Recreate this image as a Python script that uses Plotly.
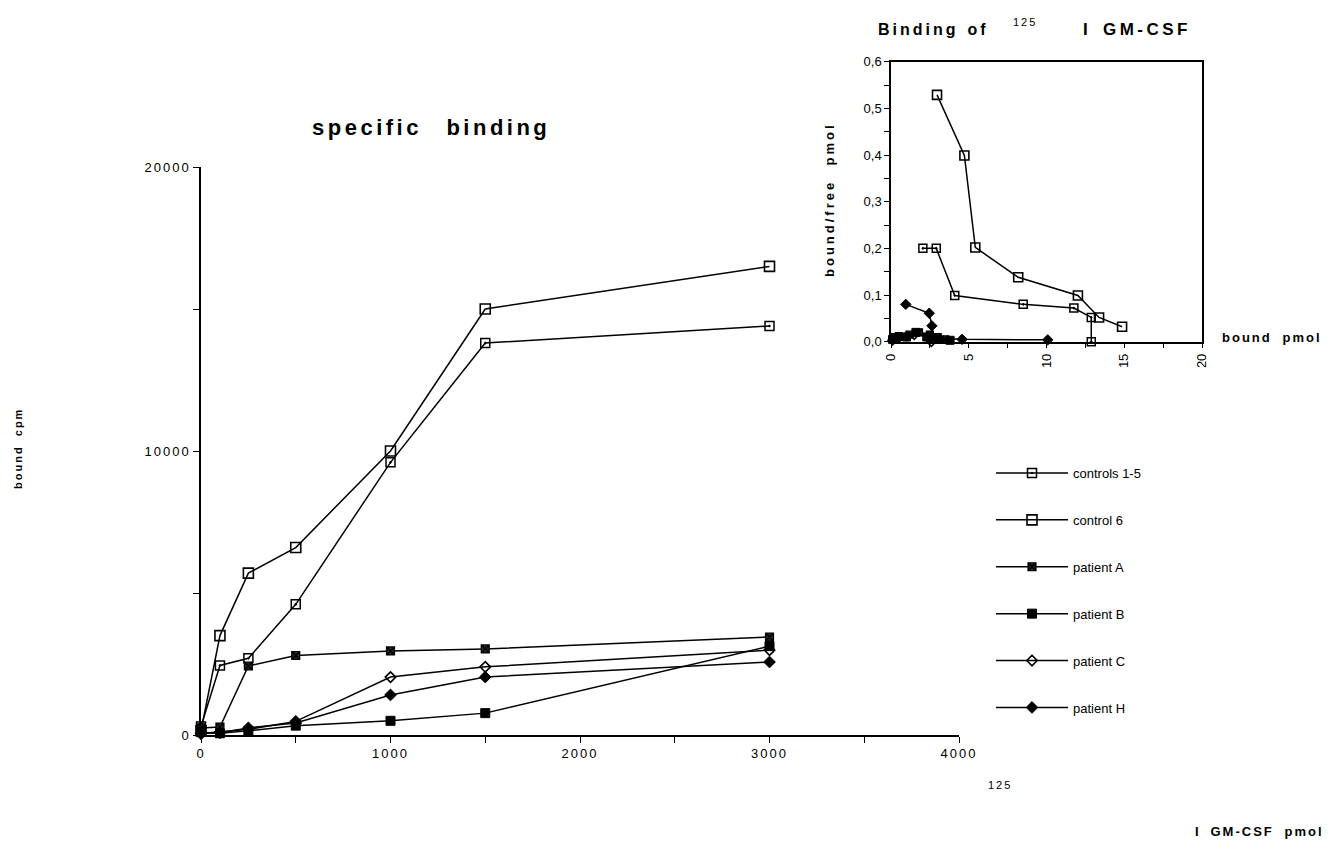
import plotly.graph_objects as go

W, H = 1333, 848

# ---- main chart data: specific binding (bound cpm vs 125I GM-CSF pmol) ----
dose = [0, 100, 250, 500, 1000, 1500, 3000]
controls_1_5 = [300, 2450, 2700, 4600, 9600, 13800, 14400]
control_6 = [150, 3500, 5700, 6600, 10000, 15000, 16500]
patient_A = [250, 280, 2430, 2800, 2960, 3030, 3450]
patient_B = [100, 60, 150, 330, 500, 770, 3130]
patient_C = [50, 100, 200, 480, 2040, 2400, 2990]
patient_H = [50, 80, 250, 420, 1410, 2040, 2570]

series_names = ["controls 1-5", "control 6", "patient A", "patient B", "patient C", "patient H"]

# ---- inset data: Scatchard plot (bound/free vs bound) ----
sc_c15_x = [2.05, 2.91, 4.10, 8.50, 11.76, 12.88, 12.88]
sc_c15_y = [0.200, 0.200, 0.099, 0.080, 0.072, 0.052, 0.000]
sc_c6_x = [2.96, 4.72, 5.42, 8.18, 12.02, 13.38, 14.86]
sc_c6_y = [0.529, 0.399, 0.202, 0.138, 0.099, 0.052, 0.032]
sc_A_x = [0.2, 0.5, 1.2, 1.8, 2.5, 3.0, 3.5]
sc_A_y = [0.010, 0.012, 0.015, 0.020, 0.015, 0.010, 0.005]
sc_B_x = [0.1, 0.3, 1.0, 1.6, 2.3, 3.0, 3.8]
sc_B_y = [0.005, 0.008, 0.010, 0.020, 0.010, 0.005, 0.003]
sc_C_x = [0.1, 0.5, 1.0, 1.5, 2.4, 2.6]
sc_C_y = [0.003, 0.008, 0.012, 0.015, 0.012, 0.000]
sc_H_x = [0.95, 2.46, 2.63, 2.55, 4.57, 10.08]
sc_H_y = [0.080, 0.061, 0.034, 0.008, 0.005, 0.004]

main_xticks = [0, 1000, 2000, 3000, 4000]
main_yticks = [0, 10000, 20000]
inset_xticks = [0, 5, 10, 15, 20]
inset_yticks = [0.0, 0.1, 0.2, 0.3, 0.4, 0.5, 0.6]

FONT = "Liberation Sans, Arial, Helvetica, sans-serif"
NB = "\u00a0"


def ls(text, px):
    return f'<span style="letter-spacing:{px}px">{text}</span>'


styles = [
    dict(symbol="square-open-dot", size=9, color="black", line=dict(width=1.5, color="black")),
    dict(symbol="square-open", size=10, color="black", line=dict(width=1.6, color="black")),
    dict(symbol="square-x", size=8, color="#222", line=dict(width=1.2, color="black")),
    dict(symbol="square", size=9, color="black", line=dict(width=1, color="black")),
    dict(symbol="diamond-open", size=8, color="black", line=dict(width=1.6, color="black")),
    dict(symbol="diamond", size=9, color="black", line=dict(width=1, color="black")),
]

main_series = [controls_1_5, control_6, patient_A, patient_B, patient_C, patient_H]
inset_series = [(sc_c15_x, sc_c15_y), (sc_c6_x, sc_c6_y), (sc_A_x, sc_A_y),
                (sc_B_x, sc_B_y), (sc_C_x, sc_C_y), (sc_H_x, sc_H_y)]

fig = go.Figure()
for i, (name, ys) in enumerate(zip(series_names, main_series)):
    fig.add_trace(go.Scatter(
        x=dose, y=ys, mode="lines+markers", name=name, legendgroup=name,
        line=dict(color="black", width=1.5), marker=styles[i],
        cliponaxis=False, xaxis="x", yaxis="y"))

for i, (name, (xs, ys)) in enumerate(zip(series_names, inset_series)):
    st = dict(styles[i])
    st["size"] = st["size"] - 1
    fig.add_trace(go.Scatter(
        x=xs, y=ys, mode="lines+markers", name=name, legendgroup=name, showlegend=False,
        line=dict(color="black", width=1.5), marker=st,
        cliponaxis=False, xaxis="x2", yaxis="y2"))


def px_x(p):
    return p / W


def px_y(p):
    return 1 - p / H


tickfont = dict(family=FONT, size=13, color="black")
common = dict(automargin=False, showgrid=False, zeroline=False, showline=True,
              linecolor="black", linewidth=1.5, ticks="outside", tickwidth=1.2,
              tickcolor="black", tickmode="array")

fig.update_layout(
    template="none",
    width=W, height=H,
    margin=dict(l=0, r=0, t=0, b=0, autoexpand=False),
    paper_bgcolor="white", plot_bgcolor="white",
    font=dict(family=FONT, color="black"),
    xaxis=dict(
        common, domain=[px_x(201), px_x(959)], range=[0, 4000], anchor="y",
        ticklen=6, tickvals=main_xticks,
        ticktext=[ls(str(v), 2) for v in main_xticks],
        tickfont=tickfont,
        minor=dict(dtick=500, tick0=0, ticks="outside", ticklen=6, tickwidth=1.2, tickcolor="black", showgrid=False),
    ),
    yaxis=dict(
        common, domain=[px_y(735), px_y(167)], range=[0, 20000], anchor="x",
        ticklen=6, tickvals=main_yticks,
        ticktext=[ls(str(v), 2) for v in main_yticks],
        tickfont=tickfont,
        minor=dict(dtick=5000, tick0=0, ticks="outside", ticklen=6, tickwidth=1.2, tickcolor="black", showgrid=False),
    ),
    xaxis2=dict(
        common, domain=[px_x(891), px_x(1202)], range=[0, 20], anchor="y2", mirror=True,
        ticklen=5, tickvals=inset_xticks, ticktext=[str(v) for v in inset_xticks],
        tickangle=-90, tickfont=dict(family=FONT, size=13, color="black"),
        minor=dict(dtick=2.5, tick0=0, ticks="outside", ticklen=5, tickwidth=1.2, tickcolor="black", showgrid=False),
    ),
    yaxis2=dict(
        common, domain=[px_y(341.7), px_y(61.7)], range=[0, 0.6], anchor="x2", mirror=True,
        ticklen=5, tickvals=inset_yticks, ticktext=[f"{v:.1f}".replace(".", ",") for v in inset_yticks],
        tickfont=dict(family=FONT, size=13, color="black"),
        minor=dict(dtick=0.05, tick0=0, ticks="outside", ticklen=5, tickwidth=1.2, tickcolor="black", showgrid=False),
    ),
    showlegend=True,
    legend=dict(
        x=px_x(991), y=px_y(458), xanchor="left", yanchor="top",
        bgcolor="rgba(0,0,0,0)", borderwidth=0,
        font=dict(family=FONT, size=13, color="black"),
        tracegroupgap=27, itemwidth=72,
    ),
)

ann = [
    dict(text="<b>" + ls("specific", 3.5) + NB * 4 + ls("binding", 3.5) + "</b>",
         x=px_x(431), y=px_y(128), size=22),
    dict(text="<b>" + ls("bound", 2) + NB * 3 + ls("cpm", 2) + "</b>",
         x=px_x(18), y=px_y(449), textangle=-90, size=11),
    dict(text=ls("125", 2), x=px_x(1000), y=px_y(785), size=11),
    dict(text="<b>" + ls("I", 1) + NB * 3 + ls("GM-CSF", 2) + NB * 3 + ls("pmol", 2) + "</b>",
         x=px_x(1259), y=px_y(831), size=13),
    dict(text="<b>" + ls("Binding", 3) + NB * 2 + ls("of", 3) + "</b>",
         x=px_x(933), y=px_y(30), size=16),
    dict(text=ls("125", 2), x=px_x(1025), y=px_y(22), size=11),
    dict(text="<b>" + ls("I", 1) + NB * 3 + ls("GM-CSF", 3.5) + "</b>",
         x=px_x(1137), y=px_y(30), size=17),
    dict(text="<b>" + ls("bound/free", 3) + NB * 4 + ls("pmol", 3) + "</b>",
         x=px_x(829), y=px_y(200), textangle=-90, size=13),
    dict(text="<b>" + ls("bound", 2) + NB * 3 + ls("pmol", 2) + "</b>",
         x=px_x(1272), y=px_y(337), size=13),
]
for a in ann:
    sz = a.pop("size")
    fig.add_annotation(xref="paper", yref="paper", showarrow=False,
                       xanchor="center", yanchor="middle",
                       font=dict(family=FONT, color="black", size=sz), **a)

fig.write_html(
    "out.html",
    config={"displayModeBar": False},
    post_script="document.body.style.margin='0px';document.body.style.padding='0px';document.body.style.overflow='hidden';",
)
